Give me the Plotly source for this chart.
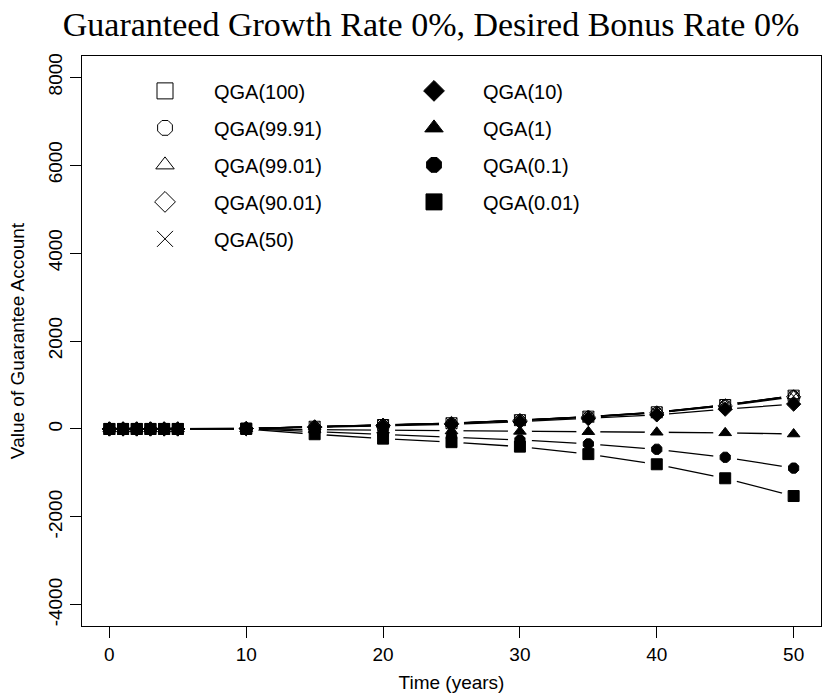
import plotly.graph_objects as go

# Time points (years) and guarantee-account values for each quantile
years = [0, 1, 2, 3, 4, 5, 10, 15, 20, 25, 30, 35, 40, 45, 50]

qga_100 = [0, 0, 0, 0, 0, 0, 10, 50, 90, 130, 200, 280, 380, 545, 757]
qga_99_91 = [0, 0, 0, 0, 0, 0, 10, 50, 90, 130, 200, 280, 380, 545, 755]
qga_99_01 = [0, 0, 0, 0, 0, 0, 10, 50, 89, 128, 198, 277, 376, 540, 750]
qga_90_01 = [0, 0, 0, 0, 0, 0, 10, 48, 86, 124, 192, 268, 365, 525, 730]
qga_50 = [0, 0, 0, 0, 0, 0, 10, 49, 88, 127, 196, 274, 372, 535, 745]
qga_10 = [0, 0, 0, 0, 0, 0, 8, 38, 70, 105, 165, 235, 320, 450, 565]
qga_1 = [0, 0, 0, 0, 0, 0, 5, -15, -30, -45, -55, -62, -75, -88, -115]
qga_0_1 = [0, 0, 0, 0, 0, 0, 2, -60, -120, -175, -250, -340, -462, -644, -890]
qga_0_01 = [0, 0, 0, 0, 0, 0, 0, -120, -220, -300, -402, -572, -803, -1121, -1525]

series_names = ["QGA(100)", "QGA(99.91)", "QGA(99.01)", "QGA(90.01)", "QGA(50)",
                "QGA(10)", "QGA(1)", "QGA(0.1)", "QGA(0.01)"]
series_values = [qga_100, qga_99_91, qga_99_01, qga_90_01, qga_50,
                 qga_10, qga_1, qga_0_1, qga_0_01]
series_symbols = ["square-open", "octagon-open", "triangle-up-open", "diamond-open",
                  "x-thin-open", "diamond", "triangle-up", "octagon", "square"]

y_tick_values = [-4000, -2000, 0, 2000, 4000, 6000, 8000]
y_tick_labels = ["-4000", "-2000", "0", "2000", "4000", "6000", "8000"]
x_tick_values = [0, 10, 20, 30, 40, 50]

SANS = "Liberation Sans, Arial, Helvetica, sans-serif"
SERIF = "Liberation Serif, Times New Roman, serif"

fig = go.Figure()

# connecting lines
for name, vals in zip(series_names, series_values):
    fig.add_trace(go.Scatter(x=years, y=vals, mode="lines",
                             line=dict(color="black", width=1.3),
                             showlegend=False, hoverinfo="skip"))

# white discs leave a small gap in the lines around every point
for name, vals in zip(series_names, series_values):
    fig.add_trace(go.Scatter(x=years, y=vals, mode="markers",
                             marker=dict(symbol="circle", size=24, color="white",
                                         line=dict(width=0)),
                             showlegend=False, hoverinfo="skip"))

# point symbols
for name, vals, sym in zip(series_names, series_values, series_symbols):
    fig.add_trace(go.Scatter(x=years, y=vals, mode="markers", name=name,
                             marker=dict(symbol=sym, size=11, color="black",
                                         line=dict(color="black", width=1)),
                             showlegend=False))

# legend entries (two columns)
for i, (name, sym) in enumerate(zip(series_names, series_symbols)):
    fig.add_trace(go.Scatter(x=[None], y=[None], mode="markers", name=name,
                             legendgroup=name,
                             legend="legend" if i < 5 else "legend2",
                             marker=dict(symbol=sym, size=20, color="black",
                                         line=dict(color="black", width=1))))

legend_style = dict(
    xanchor="left", yanchor="top", bgcolor="rgba(0,0,0,0)", borderwidth=0,
    font=dict(family=SANS, size=20, color="black"),
    itemwidth=88, tracegroupgap=8, itemclick=False, itemdoubleclick=False,
)

fig.update_layout(
    width=822, height=693,
    margin=dict(l=82, r=1, t=56, b=67),
    paper_bgcolor="white", plot_bgcolor="white",
    font=dict(family=SANS, size=19, color="black"),
    title=dict(text="Guaranteed Growth Rate 0%, Desired Bonus Rate 0%",
               font=dict(family=SERIF, size=34, color="black"),
               x=431 / 822, xanchor="center", xref="container",
               y=1 - 24 / 693, yanchor="middle", yref="container"),
    xaxis=dict(range=[-2, 52], tickvals=x_tick_values, ticks="outside", ticklen=11,
               tickwidth=1, tickcolor="black", showgrid=False, zeroline=False,
               showline=True, mirror=True, linecolor="black", linewidth=1,
               tickfont=dict(family=SANS, size=19),
               title=dict(text="Time (years)", font=dict(family=SANS, size=19))),
    yaxis=dict(range=[-4480, 8480], tickvals=y_tick_values, ticktext=y_tick_labels,
               tickangle=-90, ticks="outside", ticklen=11, tickwidth=1,
               tickcolor="black", showgrid=False, zeroline=False,
               showline=True, mirror=True, linecolor="black", linewidth=1,
               tickfont=dict(family=SANS, size=19),
               title=dict(text="Value of Guarantee Account",
                          font=dict(family=SANS, size=19))),
    legend=dict(x=(116 - 82) / 739, y=0.973, **legend_style),
    legend2=dict(x=(385 - 82) / 739, y=0.973, **legend_style),
)

fig.write_html("out.html")
